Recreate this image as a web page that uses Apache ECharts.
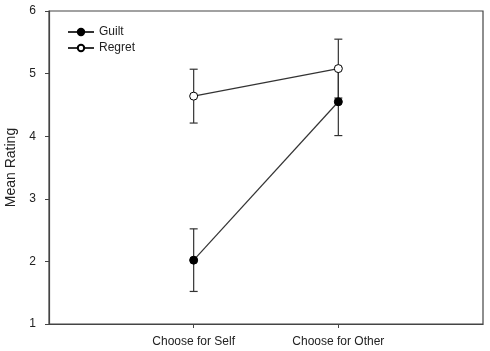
<!DOCTYPE html>
<html><head><meta charset="utf-8">
<script src="https://cdn.jsdelivr.net/npm/echarts@6/dist/echarts.min.js"></script>
<style>html,body{margin:0;padding:0;background:#fff}#c{width:490px;height:351px}</style>
</head><body><div id="c"></div>
<script>
const categories = ['Choose for Self', 'Choose for Other'];
const guiltMean = [2.02, 4.55];
const guiltErr = [0.50, 0.54];
const regretMean = [4.64, 5.08];
const regretErr = [0.43, 0.47];
const yTicks = [1, 2, 3, 4, 5, 6];

const FONT = 'Liberation Sans';
const chart = echarts.init(document.getElementById('c'));
function pts(means){ return means.map((m,i)=>[i+1,m]); }
function errData(means, errs){ return means.map((m,i)=>[i+1, m-errs[i], m+errs[i]]); }
function errRender(params, api){
  const x = api.value(0), lo = api.value(1), hi = api.value(2);
  const pLo = api.coord([x, lo]), pHi = api.coord([x, hi]);
  const w = 4;
  const st = {stroke:'#333', lineWidth:1.2};
  return {type:'group', children:[
    {type:'line', shape:{x1:pLo[0],y1:pLo[1],x2:pHi[0],y2:pHi[1]}, style:st},
    {type:'line', shape:{x1:pLo[0]-w,y1:pLo[1],x2:pLo[0]+w,y2:pLo[1]}, style:st},
    {type:'line', shape:{x1:pHi[0]-w,y1:pHi[1],x2:pHi[0]+w,y2:pHi[1]}, style:st}
  ]};
}
chart.setOption({
  animation:false,
  textStyle:{fontFamily:FONT},
  grid:{left:49, right:7, top:11, bottom:27, show:true, borderColor:'#444', borderWidth:1.2,
    containLabel:false, outerBoundsMode:'none'},
  legend:{
    orient:'vertical', left:62, top:21, itemGap:4, itemWidth:26, itemHeight:8,
    textStyle:{fontFamily:FONT, fontSize:12, color:'#222'},
    data:['Guilt','Regret']
  },
  xAxis:{
    type:'value', min:0, max:3, interval:1,
    splitLine:{show:false},
    axisLine:{lineStyle:{color:'#444', width:1.2}},
    axisTick:{show:true, length:4, customValues:[1,2], lineStyle:{color:'#444'}},
    axisLabel:{customValues:[1,2], margin:12, fontSize:12, color:'#222', fontFamily:FONT,
      formatter:v=>categories[Math.round(v)-1]||''}
  },
  yAxis:{
    type:'value', min:yTicks[0], max:yTicks[yTicks.length-1], interval:1,
    name:'Mean Rating', nameLocation:'middle', nameGap:29,
    nameTextStyle:{fontFamily:FONT, fontSize:14, color:'#222'},
    splitLine:{show:false},
    axisLine:{show:true, lineStyle:{color:'#444', width:1.2}},
    axisTick:{show:true, length:4, lineStyle:{color:'#444'}},
    axisLabel:{margin:13, fontSize:12, color:'#222', fontFamily:FONT}
  },
  series:[
    {type:'custom', name:'gErr', renderItem:errRender, data:errData(guiltMean,guiltErr), z:1, silent:true},
    {type:'custom', name:'rErr', renderItem:errRender, data:errData(regretMean,regretErr), z:1, silent:true},
    {type:'line', name:'Guilt', data:pts(guiltMean), symbol:'circle', symbolSize:8,
      lineStyle:{color:'#333', width:1.2}, itemStyle:{color:'#000', borderColor:'#000', borderWidth:1}, z:3},
    {type:'line', name:'Regret', data:pts(regretMean), symbol:'circle', symbolSize:8,
      lineStyle:{color:'#333', width:1.2}, itemStyle:{color:'#fff', borderColor:'#000', borderWidth:1}, z:4}
  ]
});
</script></body></html>
